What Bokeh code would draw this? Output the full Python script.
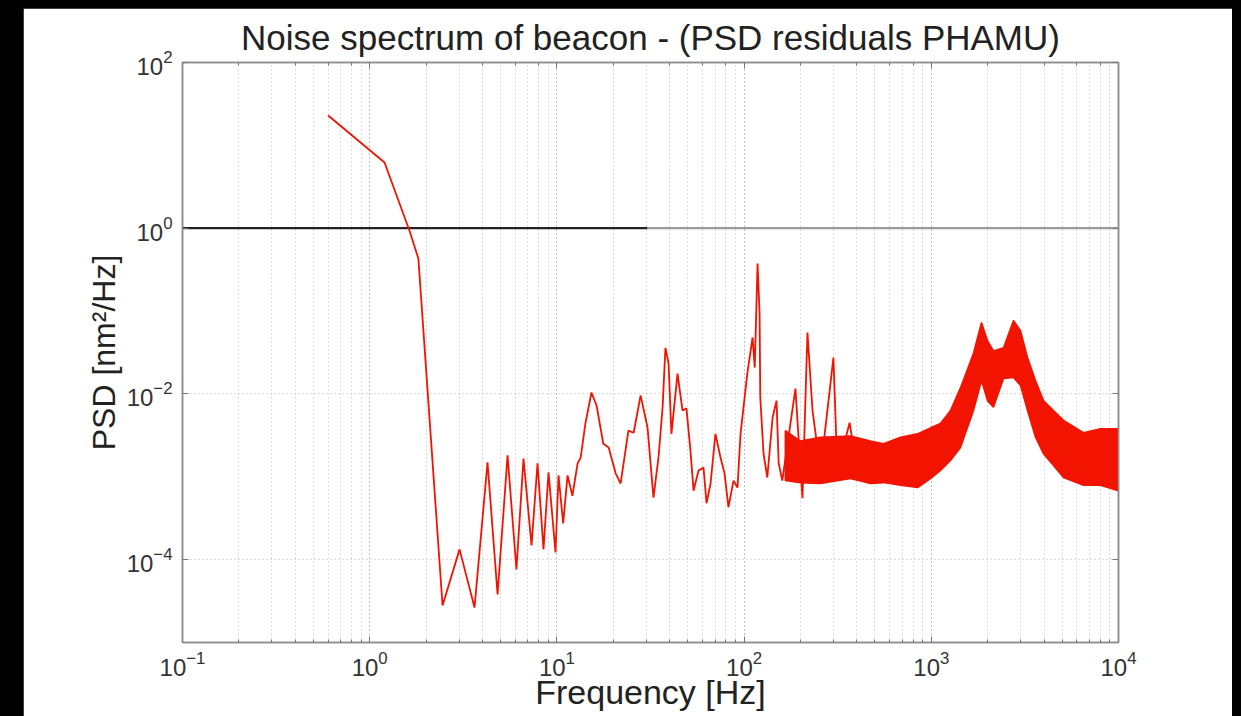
from bokeh.plotting import figure
from bokeh.models import Range1d, FixedTicker, LogAxis, LogTicker, Spacer
from bokeh.layouts import row, column
from bokeh.embed import file_html
from bokeh.resources import INLINE

TITLE = "Noise spectrum of beacon - (PSD residuals PHAMU)"
X_LABEL = "Frequency [Hz]"
Y_LABEL = "PSD [nm²/Hz]"

# line part of the spectrum
line_freq = [0.60, 1.20, 1.63, 1.82, 2.45, 3.02, 3.63, 4.26, 4.82, 5.45, 6.08, 6.63,
             7.32, 7.88, 8.48, 9.02, 9.83, 10.2, 10.8, 11.4, 12.1, 12.9, 13.4, 14.2,
             15.3, 16.3, 17.7, 18.9, 20.6, 21.9, 24.1, 25.7, 28.0, 30.5, 32.8, 34.9,
             36.7, 38.0, 39.5, 40.9, 44.1, 46.9, 49.2, 51.7, 53.7, 57.1, 60.7, 63.0,
             66.2, 70.3, 74.8, 78.6, 82.5, 87.8, 92.2, 95.7, 104, 111, 114, 118,
             121, 122, 127, 133, 142, 149, 153, 160, 188, 205, 218, 232,
             256, 300, 315, 366, 394]
line_psd = [22.9, 6.2, 0.94, 0.43, 2.8e-5, 1.33e-4, 2.64e-5, 1.49e-3, 3.8e-5, 1.81e-3, 7.6e-5, 1.66e-3,
            1.48e-4, 1.45e-3, 1.33e-4, 1.13e-3, 1.22e-4, 1.04e-3, 2.73e-4, 1.04e-3, 5.9e-4, 1.45e-3, 1.71e-3, 4.4e-3,
            1.04e-2, 7.2e-3, 2.5e-3, 2.26e-3, 1.1e-3, 8.3e-4, 3.6e-3, 3.4e-3, 9.6e-3, 3.9e-3, 5.6e-4, 1.71e-3,
            6.9e-3, 3.6e-2, 2.33e-2, 3.3e-3, 1.76e-2, 6.3e-3, 6.7e-3, 2.07e-3, 6.8e-4, 1.19e-3, 1.29e-3, 4.8e-4,
            8.3e-4, 3.3e-3, 1.71e-3, 1.1e-3, 4.3e-4, 9.0e-4, 7.4e-4, 3.3e-3, 1.76e-2, 4.8e-2, 2.08e-2, 0.375,
            9.3e-2, 9.1e-3, 1.91e-3, 9.8e-4, 5.2e-3, 8.3e-3, 1.45e-3, 9.0e-4, 1.16e-2, 5.5e-4, 5.5e-2, 6.3e-3,
            1.19e-3, 2.75e-2, 1.19e-3, 4.5e-3, 1.57e-3]

# dense noisy part: upper and lower envelope of the band
band_freq = [166, 200, 256, 370, 473, 556, 685, 844, 990, 1120, 1266, 1432, 1680, 1854,
             1996, 2149, 2431, 2748, 2996, 3265, 3603, 3974, 4496, 5084, 6500, 8014, 10000]
band_upper = [3.6e-3, 2.7e-3, 3.0e-3, 3.1e-3, 2.7e-3, 2.5e-3, 3.0e-3, 3.3e-3, 3.9e-3, 4.4e-3,
              6.3e-3, 1.19e-2, 3.1e-2, 7.3e-2, 4.4e-2, 3.3e-2, 3.6e-2, 7.7e-2, 5.8e-2, 2.75e-2,
              1.45e-2, 8.3e-3, 6.3e-3, 4.8e-3, 3.4e-3, 3.8e-3, 3.8e-3]
band_lower = [9.0e-4, 8.5e-4, 8.3e-4, 9.5e-4, 8.3e-4, 8.5e-4, 7.9e-4, 7.4e-4, 9.5e-4, 1.19e-3,
              1.57e-3, 2.25e-3, 6.3e-3, 1.45e-2, 8.3e-3, 6.9e-3, 1.53e-2, 1.58e-2, 1.26e-2, 6.3e-3,
              3.0e-3, 1.9e-3, 1.37e-3, 9.8e-4, 7.9e-4, 7.9e-4, 6.8e-4]

# reference level at PSD = 1 (dark part then grey part)
ref_level = 1.0
ref_dark_freq = [0.1, 30.5]
ref_grey_freq = [30.5, 1e4]

X_RANGE = (0.1, 1e4)
Y_RANGE = (1e-5, 1e2)
Y_TICKS = [1e-4, 1e-2, 1.0, 1e2]

FONT = "Liberation Sans"
RED = "#f21400"
FRAME = "#8c8c8c"
GRID = "#b8b8b8"

p = figure(width=1209, height=708, x_axis_type="log", y_axis_type="log",
           x_range=Range1d(*X_RANGE), y_range=Range1d(*Y_RANGE),
           output_backend="svg", toolbar_location=None, title=TITLE,
           min_border_left=159, min_border_right=114, min_border_top=54, min_border_bottom=74)
p.background_fill_color = "white"
p.border_fill_color = "white"
p.outline_line_color = FRAME
p.outline_line_width = 1.5

p.title.align = "center"
p.title.text_font = FONT
p.title.text_font_size = "35px"
p.title.text_font_style = "normal"
p.title.text_color = "#222222"
p.title.standoff = 12

# grids
p.xgrid.grid_line_color = GRID
p.xgrid.grid_line_dash = "1 3"
p.xgrid.minor_grid_line_color = GRID
p.xgrid.minor_grid_line_dash = "1 3"
p.ygrid.grid_line_color = GRID
p.ygrid.grid_line_dash = "1 3"
p.ygrid.ticker = FixedTicker(ticks=Y_TICKS, minor_ticks=[])

def style_axis(ax, show_labels=True):
    ax.axis_line_color = FRAME
    ax.axis_line_width = 1.5
    ax.major_tick_line_color = "#777777"
    ax.minor_tick_line_color = "#777777"
    ax.major_tick_in = 6
    ax.major_tick_out = 0
    ax.minor_tick_in = 3
    ax.minor_tick_out = 0
    ax.major_label_text_font = FONT
    ax.axis_label_text_font = FONT
    ax.axis_label_text_font_style = "normal"
    ax.axis_label_text_color = "#222222"
    if show_labels:
        ax.major_label_text_color = "#333333"
        ax.major_label_text_font_size = "24px"
    else:
        ax.major_label_text_color = None
        ax.major_label_text_font_size = "2px"
        ax.major_label_standoff = 0

xa = p.xaxis[0]
ya = p.yaxis[0]
style_axis(xa)
style_axis(ya)
ya.ticker = FixedTicker(ticks=Y_TICKS, minor_ticks=[])
xa.axis_label = X_LABEL
ya.axis_label = Y_LABEL
xa.axis_label_text_font_size = "34px"
ya.axis_label_text_font_size = "32px"
xa.major_label_standoff = 8
ya.major_label_standoff = 10
xa.axis_label_standoff = -6
ya.axis_label_standoff = 2

top = LogAxis(ticker=LogTicker())
right = LogAxis(ticker=FixedTicker(ticks=Y_TICKS, minor_ticks=[]))
style_axis(top, False)
style_axis(right, False)
p.add_layout(top, "above")
p.add_layout(right, "right")

# reference line
p.line(ref_dark_freq, [ref_level, ref_level], line_color="#222222", line_width=2.2)
p.line(ref_grey_freq, [ref_level, ref_level], line_color="#9a9a9a", line_width=2.2)

# band
band_x = band_freq + band_freq[::-1]
band_y = band_upper + band_lower[::-1]
p.patch(band_x, band_y, fill_color=RED, line_color=RED, line_width=1.5)

# spectrum line
p.line(line_freq, line_psd, line_color=RED, line_width=1.8)

lay = row(Spacer(width=23, height=716),
          column(Spacer(width=1209, height=8), p),
          Spacer(width=9, height=716),
          styles={"background-color": "black"})

open("out.html", "w").write(file_html(lay, INLINE))
